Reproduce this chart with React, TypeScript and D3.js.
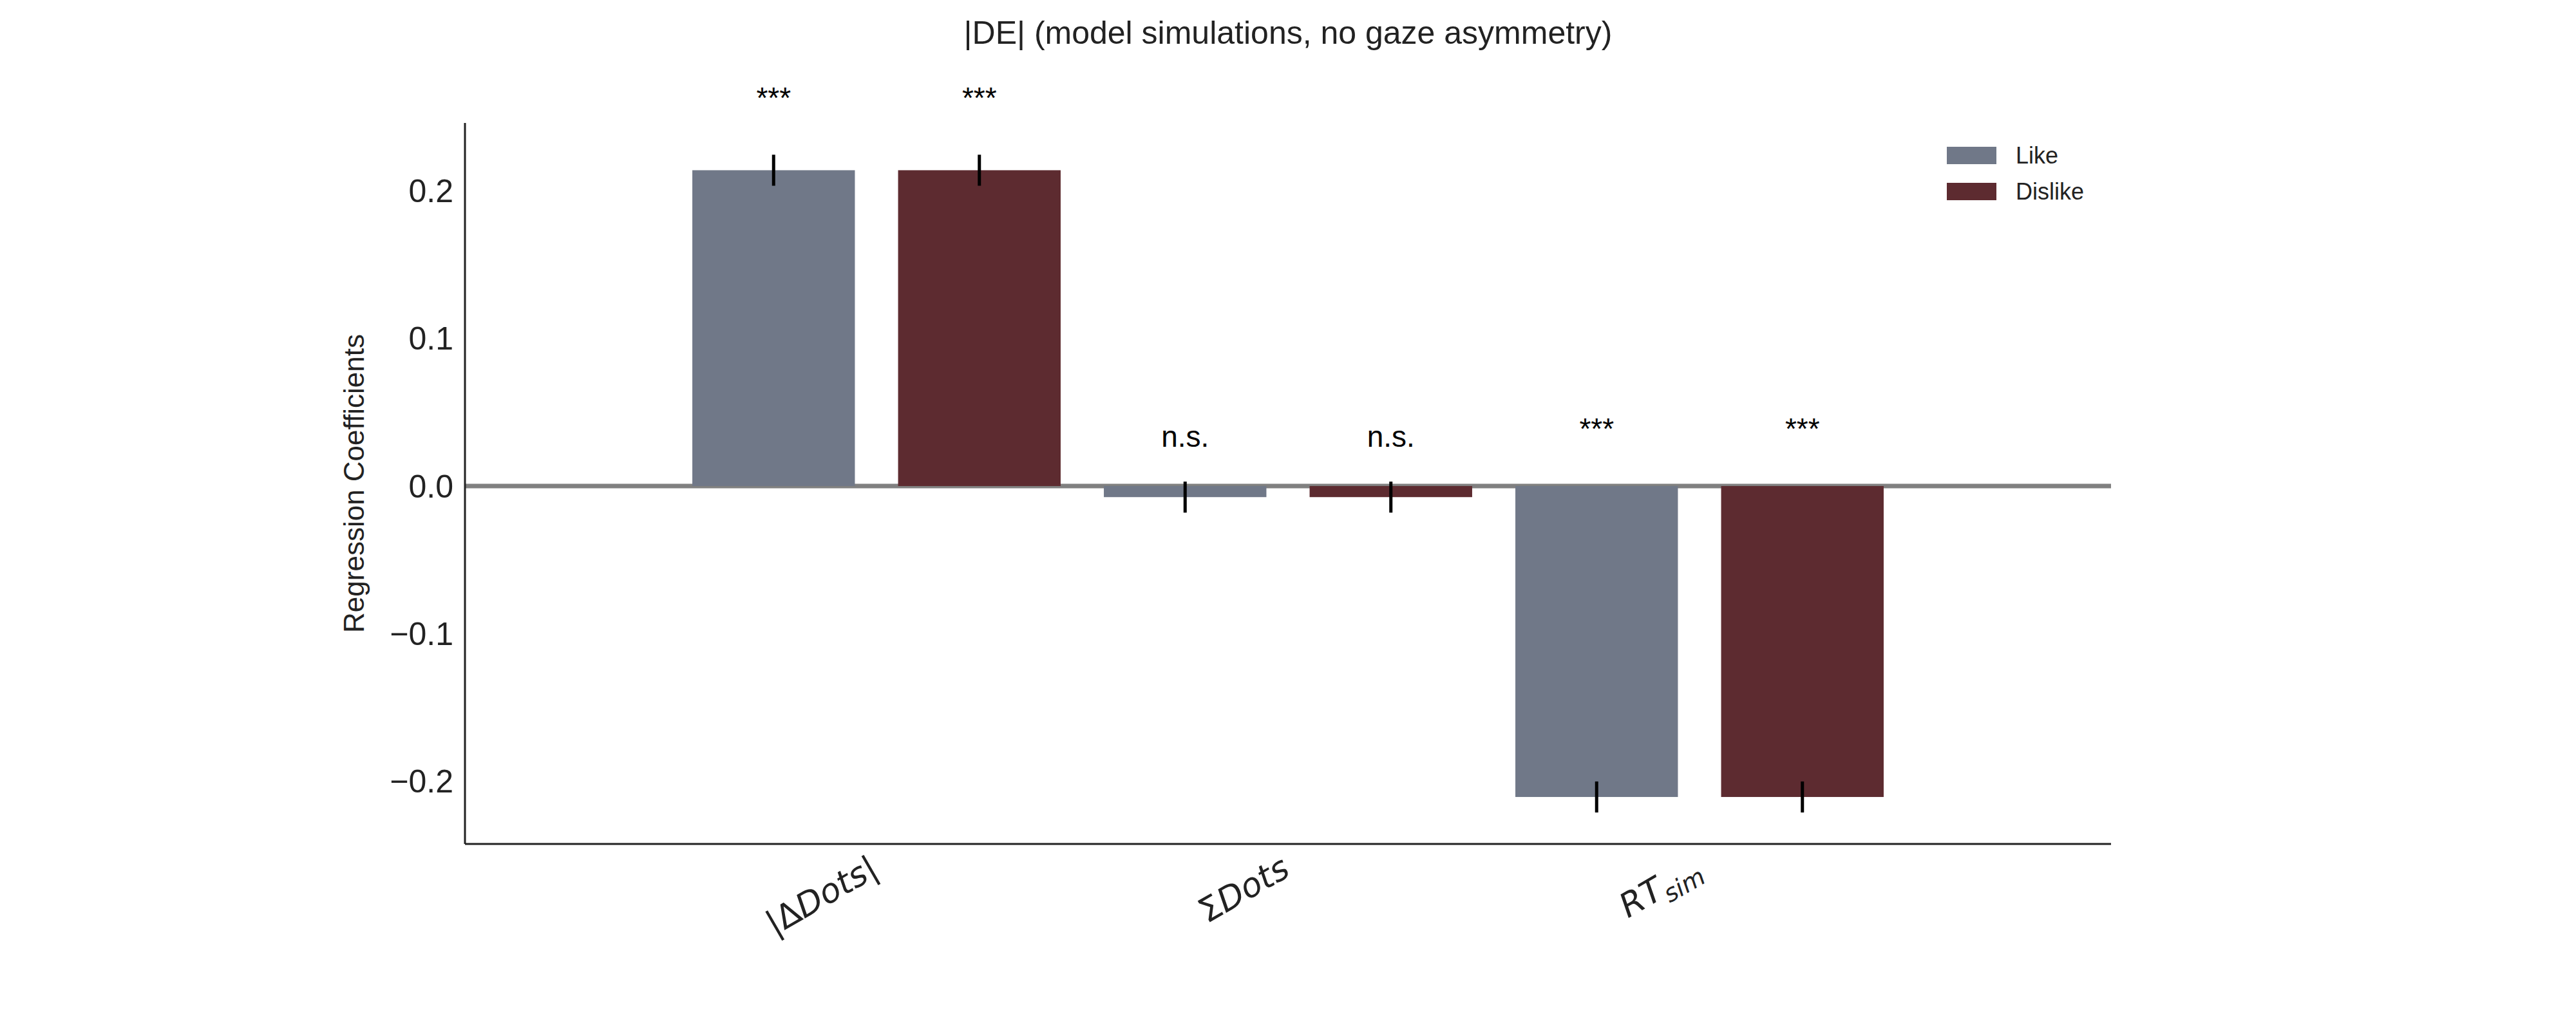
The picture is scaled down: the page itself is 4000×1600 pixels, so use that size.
import React, { useEffect, useRef } from 'react';
import * as d3 from 'd3';

const categories = ['absDots', 'sumDots', 'rt'];
const groups = ['Like', 'Dislike'];
const likeValues = [0.2138, -0.0075, -0.2105];
const dislikeValues = [0.2138, -0.0075, -0.2105];
const likeErrors = [0.0105, 0.0105, 0.0105];
const dislikeErrors = [0.0105, 0.0105, 0.0105];
const likeSig = ['***', 'n.s.', '***'];
const dislikeSig = ['***', 'n.s.', '***'];
const yTicks = [-0.2, -0.1, 0.0, 0.1, 0.2];
const colors = ['#707888', '#5d2b30'];

export default function App() {
  const ref = useRef<SVGSVGElement>(null);

  useEffect(() => {
    const svg = d3.select(ref.current);
    svg.selectAll('*').remove();
    const left = 722, right = 3278, top = 191, bottom = 1311;
    const x = d3.scaleLinear().domain([-1, 3]).range([left, right]);
    const y = d3.scaleLinear().domain([-0.2423, 0.2458]).range([bottom, top]);
    const font = 'Liberation Sans, Arial, sans-serif';
    const offsets = [-0.25, 0.25];
    const barW = x(0.395) - x(0);
    const series = [
      { vals: likeValues, errs: likeErrors, sig: likeSig },
      { vals: dislikeValues, errs: dislikeErrors, sig: dislikeSig },
    ];

    svg.append('text').attr('x', 2000).attr('y', 68).attr('text-anchor', 'middle')
      .attr('font-family', font).attr('font-size', 50).attr('fill', '#222')
      .text('|DE| (model simulations, no gaze asymmetry)');

    // zero line
    svg.append('line').attr('x1', left).attr('x2', right).attr('y1', y(0)).attr('y2', y(0))
      .attr('stroke', '#808080').attr('stroke-width', 7);

    series.forEach((s, gi) => {
      const g = svg.append('g');
      categories.forEach((_, ci) => {
        const cx = x(ci + offsets[gi]);
        const v = s.vals[ci];
        g.append('rect').attr('x', cx - barW / 2).attr('width', barW)
          .attr('y', y(Math.max(0, v))).attr('height', Math.abs(y(v) - y(0)))
          .attr('fill', colors[gi]);
        g.append('line').attr('x1', cx).attr('x2', cx)
          .attr('y1', y(v - s.errs[ci])).attr('y2', y(v + s.errs[ci]))
          .attr('stroke', '#000').attr('stroke-width', 5);
        const ty = ci === 0 ? 168 : ci === 1 ? 694 : 682;
        g.append('text').attr('x', cx).attr('y', ty).attr('text-anchor', 'middle')
          .attr('font-family', font).attr('font-size', 46).attr('fill', '#000')
          .text(s.sig[ci]);
      });
    });

    // axes
    svg.append('line').attr('x1', left).attr('x2', left).attr('y1', top).attr('y2', bottom)
      .attr('stroke', '#222').attr('stroke-width', 3);
    svg.append('line').attr('x1', left).attr('x2', right).attr('y1', bottom).attr('y2', bottom)
      .attr('stroke', '#222').attr('stroke-width', 3);

    yTicks.forEach(t => {
      svg.append('text').attr('x', left - 18).attr('y', y(t)).attr('dy', '0.35em')
        .attr('text-anchor', 'end').attr('font-family', font).attr('font-size', 50)
        .attr('fill', '#222').text(t === 0 ? '0.0' : d3.format('.1f')(t).replace('-', '\u2212'));
    });

    svg.append('text').attr('transform', `translate(565,${(top + bottom) / 2}) rotate(-90)`)
      .attr('text-anchor', 'middle').attr('font-family', font).attr('font-size', 44)
      .attr('fill', '#222').text('Regression Coefficients');

    // x tick labels
    const math = 'DejaVu Sans, sans-serif';
    categories.forEach((c, ci) => {
      const t = svg.append('text')
        .attr('transform', `translate(${x(ci) + 6},${bottom + 48}) rotate(-30)`)
        .attr('text-anchor', 'end').attr('font-family', math).attr('font-size', 52)
        .attr('fill', '#222');
      if (c === 'absDots') {
        t.append('tspan').text('|Δ');
        t.append('tspan').attr('font-style', 'italic').text('Dots');
        t.append('tspan').text('|');
      } else if (c === 'sumDots') {
        t.append('tspan').text('Σ');
        t.append('tspan').attr('font-style', 'italic').text('Dots');
      } else {
        t.append('tspan').attr('font-style', 'italic').text('RT');
        t.append('tspan').attr('font-style', 'italic').attr('font-size', 38).attr('dy', 12).text('sim');
      }
    });

    // legend
    groups.forEach((gname, gi) => {
      const ly = 241 + gi * 56;
      svg.append('rect').attr('x', 3023).attr('y', ly - 13).attr('width', 77).attr('height', 27)
        .attr('fill', colors[gi]);
      svg.append('text').attr('x', 3130).attr('y', ly).attr('dy', '0.35em')
        .attr('font-family', font).attr('font-size', 36).attr('fill', '#222').text(gname);
    });
  }, []);

  return <svg ref={ref} width={4000} height={1600} style={{ display: 'block', margin: -8, background: '#fff' }} />;
}
